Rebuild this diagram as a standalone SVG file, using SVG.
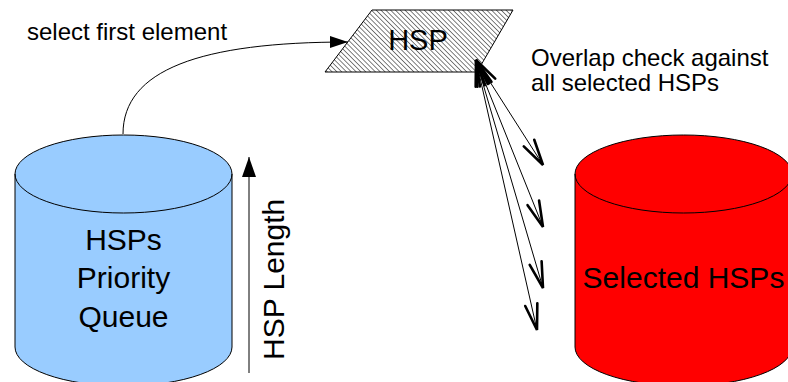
<svg xmlns="http://www.w3.org/2000/svg" width="788" height="382" viewBox="0 0 788 382">
  <style>
    text { font-family: "Liberation Sans", Arial, sans-serif; fill: #000; }
    .label { font-size: 24px; }
    .big { font-size: 30px; }
    .edge { fill: none; stroke: #000; stroke-width: 1; }
    .outline { stroke: #000; stroke-width: 1; }
  </style>
  <defs>
    <pattern id="hatch" width="3.4" height="3.4" patternUnits="userSpaceOnUse" patternTransform="rotate(-45)">
      <rect width="3.4" height="3.4" fill="#fff"/>
      <line x1="0" y1="0" x2="0" y2="3.4" stroke="#000" stroke-width="1"/>
    </pattern>
    <marker id="solid" markerUnits="userSpaceOnUse" markerWidth="24" markerHeight="16" refX="18" refY="6" orient="auto" overflow="visible">
      <path d="M0,0 L18,6 L0,12 Z" fill="#000"/>
    </marker>
    <marker id="solidUp" markerUnits="userSpaceOnUse" markerWidth="24" markerHeight="16" refX="20" refY="7" orient="auto" overflow="visible">
      <path d="M0,0 L20,7 L0,14 Z" fill="#000"/>
    </marker>
    <marker id="vee" markerUnits="userSpaceOnUse" markerWidth="30" markerHeight="16" refX="0" refY="0" orient="auto-start-reverse" overflow="visible">
      <path d="M-26,-6.2 L0,0 L-26,6.2" fill="none" stroke="#000" stroke-width="2.6" stroke-linejoin="miter" stroke-linecap="round"/>
    </marker>
  </defs>

  <!-- queue of candidate HSPs -->
  <g id="queue">
    <path class="outline" fill="#99ccff" d="M15,174 A108.5,39 0 0 1 232,174 L232,347 A108.5,39 0 0 1 15,347 Z"/>
    <path class="edge" d="M15,174 A108.5,39 0 0 0 232,174"/>
    <text class="big" x="123.5" y="250" text-anchor="middle">HSPs</text>
    <text class="big" x="123.5" y="288" text-anchor="middle">Priority</text>
    <text class="big" x="123.5" y="327" text-anchor="middle">Queue</text>
  </g>

  <!-- current HSP -->
  <g id="hsp">
    <polygon class="outline" fill="url(#hatch)" points="372,10 513,10 477,72 325,72"/>
    <text x="418" y="50" text-anchor="middle" style="font-size:29px">HSP</text>
  </g>

  <!-- store of accepted HSPs -->
  <g id="selected">
    <path class="outline" fill="#ff0000" d="M575,174 A108.5,39 0 0 1 792,174 L792,347 A108.5,39 0 0 1 575,347 Z"/>
    <path class="edge" d="M575,174 A108.5,39 0 0 0 792,174"/>
    <text class="big" x="683.5" y="288" text-anchor="middle">Selected HSPs</text>
  </g>

  <!-- length axis -->
  <g id="length-axis">
    <line class="edge" x1="249" y1="373" x2="249" y2="157" marker-end="url(#solidUp)"/>
    <text class="big" transform="translate(284,360) rotate(-90)">HSP Length</text>
  </g>

  <g id="connectors">
    <path class="edge" d="M123,134 C123,70 200,42 348,42" marker-end="url(#solid)"/>
    <line class="edge" x1="476" y1="60" x2="543" y2="165" marker-start="url(#vee)" marker-end="url(#vee)"/>
    <line class="edge" x1="476" y1="60" x2="543" y2="227" marker-start="url(#vee)" marker-end="url(#vee)"/>
    <line class="edge" x1="476" y1="60" x2="543" y2="288" marker-start="url(#vee)" marker-end="url(#vee)"/>
    <line class="edge" x1="476" y1="60" x2="537" y2="330" marker-start="url(#vee)" marker-end="url(#vee)"/>
  </g>

  <g id="labels">
    <text class="label" x="27" y="40">select first element</text>
    <text class="label" x="531" y="66">Overlap check against</text>
    <text class="label" x="531" y="91">all selected HSPs</text>
  </g>
</svg>
